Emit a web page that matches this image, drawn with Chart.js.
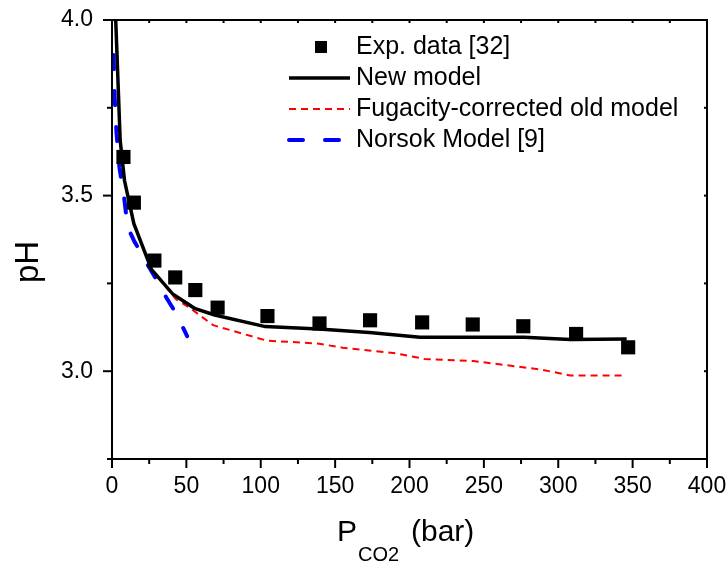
<!DOCTYPE html>
<html>
<head>
<meta charset="utf-8">
<script src="https://cdn.jsdelivr.net/npm/chart.js@4.4.0/dist/chart.umd.min.js"></script>
<style>
body { margin: 0; background: #fff; }
</style>
</head>
<body>
<canvas id="myChart" width="728" height="562"></canvas>
<script>
// values
var expP = [7.7, 14.7, 28.5, 42.5, 56, 71, 104.5, 139.5, 173.5, 208.5, 242.5, 276.5, 312, 347]
var expPH = [3.61, 3.48, 3.315, 3.267, 3.231, 3.181, 3.157, 3.136, 3.145, 3.139, 3.133, 3.128, 3.106, 3.068]

var newP = [2.5, 5.5, 8.4, 14.7, 26.5, 41, 55.5, 69, 103, 139, 173, 207, 242, 277, 308, 346]
var newPH = [4.0, 3.657, 3.543, 3.42, 3.29, 3.219, 3.179, 3.16, 3.127, 3.12, 3.11, 3.097, 3.097, 3.097, 3.09, 3.092]

var oldP = [2.5, 5.5, 8.4, 14.7, 26.5, 43, 52, 68, 104, 138, 155, 189, 210, 243, 288, 308, 344]
var oldPH = [4.0, 3.657, 3.543, 3.42, 3.29, 3.205, 3.181, 3.131, 3.087, 3.079, 3.067, 3.052, 3.035, 3.029, 3.005, 2.988, 2.988]

var norsokP = [1.0, 1.8, 3, 5, 8, 10.5, 15, 23, 30, 36.5, 43, 50.5]
var norsokPH = [3.90, 3.78, 3.68, 3.58, 3.50, 3.41, 3.37, 3.31, 3.26, 3.21, 3.165, 3.10]

var xTicks = [0, 50, 100, 150, 200, 250, 300, 350, 400]
var yTicks = [3.0, 3.5, 4.0]
var seriesNames = ["Exp. data [32]", "New model", "Fugacity-corrected old model", "Norsok Model [9]"]

var FONT = "'Liberation Sans', Arial, sans-serif"

function pairs(xs, ys) {
	return xs.map(function (x, i) {
		return {x: x, y: ys[i]}
	})
}

function line(c, x1, y1, x2, y2) {
	c.beginPath()
	c.moveTo(x1, y1)
	c.lineTo(x2, y2)
	c.stroke()
}

// axis box with outward ticks on bottom/left, short inward ticks on top/right
var framePlugin = {
	id: "frame",
	afterDraw: function (chart) {
		var c = chart.ctx, a = chart.chartArea, xs = chart.scales.x, ys = chart.scales.y
		c.save()
		c.strokeStyle = "#000"
		c.lineWidth = 2
		c.strokeRect(a.left, a.top, a.right - a.left, a.bottom - a.top)
		xTicks.forEach(function (v, i) {
			var px = xs.getPixelForValue(v)
			line(c, px, a.bottom, px, a.bottom + 9)
			line(c, px, a.top, px, a.top + 3)
			if (i < xTicks.length - 1) {
				var m = xs.getPixelForValue((v + xTicks[i + 1]) / 2)
				line(c, m, a.bottom, m, a.bottom + 5)
				line(c, m, a.top, m, a.top + 3)
			}
		})
		yTicks.forEach(function (v) {
			var py = ys.getPixelForValue(v)
			line(c, a.left, py, a.left - 9, py)
			line(c, a.right, py, a.right - 3, py)
			var m = ys.getPixelForValue(v - 0.25)
			line(c, a.left, m, a.left - 5, m)
			line(c, a.right, m, a.right - 3, m)
		})
		c.restore()
	},
}

// axis titles and legend
var textPlugin = {
	id: "texts",
	afterDraw: function (chart) {
		var c = chart.ctx
		var ds = chart.data.datasets
		c.save()
		c.fillStyle = "#000"
		c.textBaseline = "alphabetic"
		c.textAlign = "left"

		// x title with subscript
		c.font = "30px " + FONT
		c.fillText("P", 337, 541)
		c.font = "20px " + FONT
		c.fillText("CO2", 358, 561)
		c.font = "30px " + FONT
		c.fillText("(bar)", 411, 541)

		// y title
		c.save()
		c.translate(38, 262)
		c.rotate(-Math.PI / 2)
		c.textAlign = "center"
		c.font = "33px " + FONT
		c.fillText("pH", 0, 0)
		c.restore()

		// legend
		var rowY = [47, 78, 109, 140]
		c.font = "25px " + FONT
		c.textBaseline = "middle"
		ds.forEach(function (d, i) {
			var y = rowY[i]
			if (d.showLine === false) {
				c.fillStyle = d.backgroundColor
				c.fillRect(315, y - 6, 12, 12)
			} else {
				c.save()
				c.strokeStyle = d.borderColor
				c.lineWidth = d.borderWidth
				c.lineCap = d.borderCapStyle || "butt"
				c.setLineDash(d.borderDash || [])
				line(c, 289, y, 350, y)
				c.restore()
			}
			c.fillStyle = "#000"
			c.fillText(d.label, 356, y)
		})
		c.restore()
	},
}

var ctx = document.getElementById("myChart").getContext("2d")
var myChart = new Chart(ctx, {
	type: "scatter",
	data: {
		datasets: [
			{
				label: seriesNames[0],
				data: pairs(expP, expPH),
				showLine: false,
				pointStyle: "rect",
				pointRadius: 10,
				pointHoverRadius: 10,
				backgroundColor: "#000",
				borderColor: "#000",
				borderWidth: 0,
			},
			{
				label: seriesNames[1],
				data: pairs(newP, newPH),
				showLine: true,
				borderColor: "#000",
				borderWidth: 3.5,
				pointRadius: 0,
				tension: 0,
			},
			{
				label: seriesNames[2],
				data: pairs(oldP, oldPH),
				showLine: true,
				borderColor: "#ff0000",
				borderWidth: 2,
				borderDash: [7, 5],
				pointRadius: 0,
				tension: 0,
			},
			{
				label: seriesNames[3],
				data: pairs(norsokP, norsokPH),
				showLine: true,
				borderColor: "#0000ff",
				borderWidth: 4,
				borderDash: [14, 22],
				borderCapStyle: "round",
				pointRadius: 0,
				tension: 0,
			},
		],
	},
	options: {
		responsive: false,
		animation: false,
		devicePixelRatio: 1,
		layout: {
			padding: {top: 20, right: 21, left: 0, bottom: 0},
		},
		scales: {
			x: {
				type: "linear",
				min: 0,
				max: 400,
				afterFit: function (s) {
					s.height = 103
					s.paddingLeft = 0
					s.paddingRight = 0
				},
				afterBuildTicks: function (s) {
					s.ticks = xTicks.map(function (v) {
						return {value: v}
					})
				},
				grid: {display: false, drawTicks: false},
				border: {display: false},
				ticks: {
					color: "#000",
					font: {family: FONT, size: 23},
					padding: 14,
					maxRotation: 0,
					autoSkip: false,
					callback: function (v) {
						return String(v)
					},
				},
			},
			y: {
				type: "linear",
				min: 2.75,
				max: 4.0,
				afterFit: function (s) {
					s.width = 112
					s.paddingTop = 0
					s.paddingBottom = 0
				},
				afterBuildTicks: function (s) {
					s.ticks = yTicks.map(function (v) {
						return {value: v}
					})
				},
				grid: {display: false, drawTicks: false},
				border: {display: false},
				ticks: {
					color: "#000",
					font: {family: FONT, size: 23},
					padding: 19,
					autoSkip: false,
					callback: function (v) {
						return v.toFixed(1)
					},
				},
			},
		},
		plugins: {
			legend: {display: false},
			tooltip: {enabled: false},
		},
	},
	plugins: [framePlugin, textPlugin],
})
</script>
</body>
</html>
